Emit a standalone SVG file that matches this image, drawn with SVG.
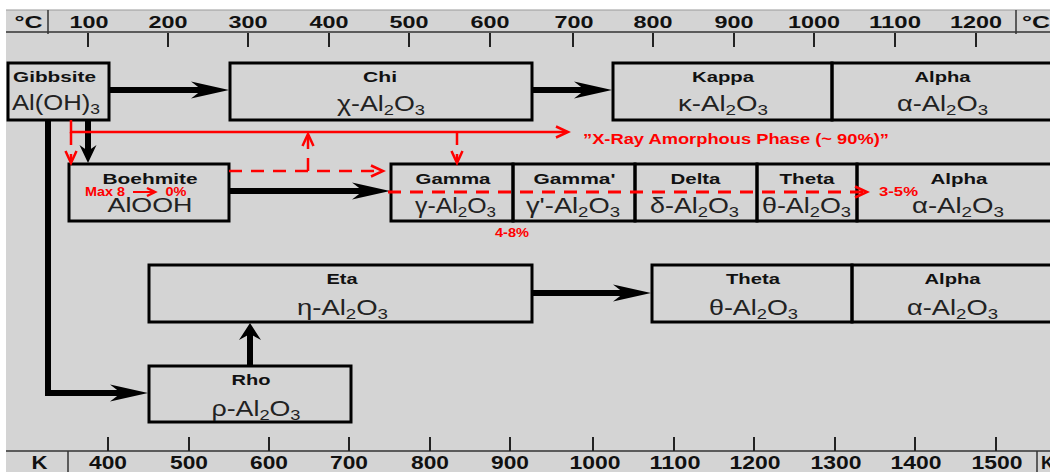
<svg xmlns="http://www.w3.org/2000/svg" xmlns:xlink="http://www.w3.org/1999/xlink" width="1050" height="472" viewBox="0 0 1050 472">
  <style>
    .sc { font-family: "Liberation Sans", Arial, sans-serif; font-weight: bold; font-size: 17px; fill: #111; text-anchor: middle; }
    .sb { font-family: "Liberation Sans", Arial, sans-serif; font-weight: bold; font-size: 18px; fill: #111; text-anchor: middle; }
    .nm { font-family: "Liberation Sans", Arial, sans-serif; font-weight: bold; font-size: 15px; fill: #111; text-anchor: middle; }
    .fm { font-family: "Liberation Sans", Arial, sans-serif; font-size: 22px; fill: #222; text-anchor: middle; }
    .rd { font-family: "Liberation Sans", Arial, sans-serif; font-weight: bold; font-size: 12px; fill: #ff0000; }
    .rx { font-family: "Liberation Sans", Arial, sans-serif; font-weight: bold; font-size: 15px; fill: #ff0000; }
    .box { fill: none; stroke: #000; stroke-width: 3; }
    .tick { stroke: #222; stroke-width: 2; }
    .rule { stroke: #333; stroke-width: 1.5; fill: none; }
    .shaft { stroke: #000; stroke-width: 6; fill: none; }
    .rl { stroke: #ff0000; stroke-width: 2.5; fill: none; }
    .dash { stroke-dasharray: 13 9; }
    .rv { stroke: #ff0000; stroke-width: 2.5; fill: none; stroke-linejoin: miter; }
  </style>
  <defs>
    <!-- long black stealth head, tip at origin pointing +x -->
    <path id="hd" d="M0,0 L-38,-8.5 L-27,0 L-38,8.5 Z" fill="#000"/>
    <!-- short heads for the vertical arrows -->
    <path id="hs" d="M0,0 L-18,-8.5 L-12,0 L-18,8.5 Z" fill="#000"/>
    <path id="hw" d="M0,0 L-17,-11 L-11,0 L-17,11 Z" fill="#000"/>
    <!-- red open heads -->
    <path id="rv" class="rv" d="M-12,-5.5 L0,0 L-12,5.5"/>
    <path id="rvs" class="rv" d="M-8,-4 L0,0 L-8,4"/>
  </defs>

  <!-- backdrop -->
  <rect x="0" y="0" width="1050" height="472" fill="#ffffff"/>
  <rect x="6" y="10" width="1050" height="470" fill="#d4d4d4"/>
  <line x1="6" y1="10" x2="1050" y2="10" stroke="#999" stroke-width="1"/>

  <!-- Celsius scale -->
  <g id="scale-celsius">
    <line class="rule" x1="6" y1="32" x2="1050" y2="32"/>
    <line class="rule" x1="48" y1="10" x2="48" y2="34"/>
    <line class="rule" x1="1016" y1="10" x2="1016" y2="34"/>
    <text class="sc" x="28.5" y="28" textLength="28" lengthAdjust="spacingAndGlyphs">°C</text>
    <text class="sc" x="1022" y="28" style="text-anchor:start" textLength="28" lengthAdjust="spacingAndGlyphs">°C</text>
    <g>
      <line class="tick" x1="88" y1="33" x2="88" y2="47"/>
      <line class="tick" x1="168" y1="33" x2="168" y2="47"/>
      <line class="tick" x1="248" y1="33" x2="248" y2="47"/>
      <line class="tick" x1="329" y1="33" x2="329" y2="47"/>
      <line class="tick" x1="409" y1="33" x2="409" y2="47"/>
      <line class="tick" x1="490" y1="33" x2="490" y2="47"/>
      <line class="tick" x1="573" y1="33" x2="573" y2="47"/>
      <line class="tick" x1="653" y1="33" x2="653" y2="47"/>
      <line class="tick" x1="734" y1="33" x2="734" y2="47"/>
      <line class="tick" x1="814" y1="33" x2="814" y2="47"/>
      <line class="tick" x1="895" y1="33" x2="895" y2="47"/>
      <line class="tick" x1="976" y1="33" x2="976" y2="47"/>
    </g>
    <text class="sc" x="89" y="28" textLength="39" lengthAdjust="spacingAndGlyphs">100</text>
    <text class="sc" x="168" y="28" textLength="39" lengthAdjust="spacingAndGlyphs">200</text>
    <text class="sc" x="248" y="28" textLength="39" lengthAdjust="spacingAndGlyphs">300</text>
    <text class="sc" x="329" y="28" textLength="39" lengthAdjust="spacingAndGlyphs">400</text>
    <text class="sc" x="409" y="28" textLength="39" lengthAdjust="spacingAndGlyphs">500</text>
    <text class="sc" x="490" y="28" textLength="39" lengthAdjust="spacingAndGlyphs">600</text>
    <text class="sc" x="574" y="28" textLength="39" lengthAdjust="spacingAndGlyphs">700</text>
    <text class="sc" x="653" y="28" textLength="39" lengthAdjust="spacingAndGlyphs">800</text>
    <text class="sc" x="734" y="28" textLength="39" lengthAdjust="spacingAndGlyphs">900</text>
    <text class="sc" x="814" y="28" textLength="52" lengthAdjust="spacingAndGlyphs">1000</text>
    <text class="sc" x="895" y="28" textLength="52" lengthAdjust="spacingAndGlyphs">1100</text>
    <text class="sc" x="976" y="28" textLength="52" lengthAdjust="spacingAndGlyphs">1200</text>
  </g>

  <!-- Kelvin scale -->
  <g id="scale-kelvin">
    <line class="rule" x1="6" y1="451" x2="1050" y2="451"/>
    <line class="rule" x1="68" y1="451" x2="68" y2="472"/>
    <line class="rule" x1="1037" y1="451" x2="1037" y2="472"/>
    <text class="sb" x="39.5" y="469" textLength="16" lengthAdjust="spacingAndGlyphs">K</text>
    <text class="sb" x="1041" y="469" style="text-anchor:start">K</text>
    <g>
      <line class="tick" x1="108" y1="437" x2="108" y2="451"/>
      <line class="tick" x1="189" y1="437" x2="189" y2="451"/>
      <line class="tick" x1="269" y1="437" x2="269" y2="451"/>
      <line class="tick" x1="349" y1="437" x2="349" y2="451"/>
      <line class="tick" x1="430" y1="437" x2="430" y2="451"/>
      <line class="tick" x1="510" y1="437" x2="510" y2="451"/>
      <line class="tick" x1="593" y1="437" x2="593" y2="451"/>
      <line class="tick" x1="674" y1="437" x2="674" y2="451"/>
      <line class="tick" x1="754" y1="437" x2="754" y2="451"/>
      <line class="tick" x1="835" y1="437" x2="835" y2="451"/>
      <line class="tick" x1="915" y1="437" x2="915" y2="451"/>
      <line class="tick" x1="996" y1="437" x2="996" y2="451"/>
    </g>
    <text class="sb" x="108" y="469" textLength="38" lengthAdjust="spacingAndGlyphs">400</text>
    <text class="sb" x="189" y="469" textLength="38" lengthAdjust="spacingAndGlyphs">500</text>
    <text class="sb" x="269" y="469" textLength="38" lengthAdjust="spacingAndGlyphs">600</text>
    <text class="sb" x="349" y="469" textLength="38" lengthAdjust="spacingAndGlyphs">700</text>
    <text class="sb" x="430" y="469" textLength="38" lengthAdjust="spacingAndGlyphs">800</text>
    <text class="sb" x="510" y="469" textLength="38" lengthAdjust="spacingAndGlyphs">900</text>
    <text class="sb" x="595" y="469" textLength="51" lengthAdjust="spacingAndGlyphs">1000</text>
    <text class="sb" x="675" y="469" textLength="51" lengthAdjust="spacingAndGlyphs">1100</text>
    <text class="sb" x="755" y="469" textLength="51" lengthAdjust="spacingAndGlyphs">1200</text>
    <text class="sb" x="836" y="469" textLength="51" lengthAdjust="spacingAndGlyphs">1300</text>
    <text class="sb" x="916" y="469" textLength="51" lengthAdjust="spacingAndGlyphs">1400</text>
    <text class="sb" x="997" y="469" textLength="51" lengthAdjust="spacingAndGlyphs">1500</text>
  </g>

  <!-- row 1 -->
  <g id="gibbsite">
    <rect class="box" x="8" y="63" width="101" height="57"/>
    <text class="nm" x="13" y="82" style="text-anchor:start" textLength="83" lengthAdjust="spacingAndGlyphs">Gibbsite</text>
    <text class="fm" x="12" y="110" style="text-anchor:start" textLength="88" lengthAdjust="spacingAndGlyphs">Al(OH)<tspan font-size="15" dy="4">3</tspan></text>
  </g>
  <g id="chi">
    <rect class="box" x="230" y="63" width="302" height="57"/>
    <text class="nm" x="380" y="82" textLength="34" lengthAdjust="spacingAndGlyphs">Chi</text>
    <text class="fm" x="381" y="111" textLength="88" lengthAdjust="spacingAndGlyphs">χ-Al<tspan font-size="15" dy="4">2</tspan><tspan dy="-4">O</tspan><tspan font-size="15" dy="4">3</tspan></text>
  </g>
  <g id="kappa">
    <rect class="box" x="613" y="63" width="219" height="57"/>
    <text class="nm" x="723" y="82" textLength="62" lengthAdjust="spacingAndGlyphs">Kappa</text>
    <text class="fm" x="723" y="111" textLength="90" lengthAdjust="spacingAndGlyphs">κ-Al<tspan font-size="15" dy="4">2</tspan><tspan dy="-4">O</tspan><tspan font-size="15" dy="4">3</tspan></text>
  </g>
  <g id="alpha-1">
    <rect class="box" x="832" y="63" width="230" height="57"/>
    <text class="nm" x="942.5" y="82" textLength="56" lengthAdjust="spacingAndGlyphs">Alpha</text>
    <text class="fm" x="942.5" y="111" textLength="91" lengthAdjust="spacingAndGlyphs">α-Al<tspan font-size="15" dy="4">2</tspan><tspan dy="-4">O</tspan><tspan font-size="15" dy="4">3</tspan></text>
  </g>

  <!-- row 2 -->
  <g id="boehmite">
    <rect class="box" x="69" y="164" width="160" height="57"/>
    <text class="nm" x="150" y="184" textLength="95" lengthAdjust="spacingAndGlyphs">Boehmite</text>
    <text class="fm" x="150" y="212" style="font-size:20px" textLength="85" lengthAdjust="spacingAndGlyphs">AlOOH</text>
    <text class="rd" x="85" y="196" textLength="40" lengthAdjust="spacingAndGlyphs">Max 8</text>
    <text class="rd" x="165.5" y="196" textLength="21" lengthAdjust="spacingAndGlyphs">0%</text>
  </g>
  <g id="gamma">
    <rect class="box" x="391" y="164" width="122" height="57"/>
    <text class="nm" x="453" y="184" textLength="75" lengthAdjust="spacingAndGlyphs">Gamma</text>
    <text class="fm" x="455.5" y="213" textLength="81" lengthAdjust="spacingAndGlyphs">γ-Al<tspan font-size="15" dy="4">2</tspan><tspan dy="-4">O</tspan><tspan font-size="15" dy="4">3</tspan></text>
  </g>
  <g id="gamma-prime">
    <rect class="box" x="513" y="164" width="122" height="57"/>
    <text class="nm" x="574.5" y="184" textLength="82" lengthAdjust="spacingAndGlyphs">Gamma'</text>
    <text class="fm" x="573" y="213" textLength="94" lengthAdjust="spacingAndGlyphs">γ'-Al<tspan font-size="15" dy="4">2</tspan><tspan dy="-4">O</tspan><tspan font-size="15" dy="4">3</tspan></text>
  </g>
  <g id="delta">
    <rect class="box" x="635" y="164" width="122" height="57"/>
    <text class="nm" x="695.5" y="184" textLength="50" lengthAdjust="spacingAndGlyphs">Delta</text>
    <text class="fm" x="694.5" y="213" textLength="89" lengthAdjust="spacingAndGlyphs">δ-Al<tspan font-size="15" dy="4">2</tspan><tspan dy="-4">O</tspan><tspan font-size="15" dy="4">3</tspan></text>
  </g>
  <g id="theta-2">
    <rect class="box" x="757" y="164" width="100" height="57"/>
    <text class="nm" x="807" y="184" textLength="55" lengthAdjust="spacingAndGlyphs">Theta</text>
    <text class="fm" x="806.5" y="213" textLength="89" lengthAdjust="spacingAndGlyphs">θ-Al<tspan font-size="15" dy="4">2</tspan><tspan dy="-4">O</tspan><tspan font-size="15" dy="4">3</tspan></text>
  </g>
  <g id="alpha-2">
    <rect class="box" x="857" y="164" width="205" height="57"/>
    <text class="nm" x="959" y="184" textLength="57" lengthAdjust="spacingAndGlyphs">Alpha</text>
    <text class="fm" x="958" y="213" textLength="92" lengthAdjust="spacingAndGlyphs">α-Al<tspan font-size="15" dy="4">2</tspan><tspan dy="-4">O</tspan><tspan font-size="15" dy="4">3</tspan></text>
  </g>

  <!-- row 3 -->
  <g id="eta">
    <rect class="box" x="149" y="265" width="383" height="57"/>
    <text class="nm" x="342" y="284" textLength="31" lengthAdjust="spacingAndGlyphs">Eta</text>
    <text class="fm" x="342.5" y="315" textLength="91" lengthAdjust="spacingAndGlyphs">η-Al<tspan font-size="15" dy="4">2</tspan><tspan dy="-4">O</tspan><tspan font-size="15" dy="4">3</tspan></text>
  </g>
  <g id="theta-3">
    <rect class="box" x="652" y="265" width="200" height="57"/>
    <text class="nm" x="753" y="284" textLength="54" lengthAdjust="spacingAndGlyphs">Theta</text>
    <text class="fm" x="753.5" y="315" textLength="89" lengthAdjust="spacingAndGlyphs">θ-Al<tspan font-size="15" dy="4">2</tspan><tspan dy="-4">O</tspan><tspan font-size="15" dy="4">3</tspan></text>
  </g>
  <g id="alpha-3">
    <rect class="box" x="852" y="265" width="210" height="57"/>
    <text class="nm" x="952.5" y="284" textLength="56" lengthAdjust="spacingAndGlyphs">Alpha</text>
    <text class="fm" x="952.5" y="315" textLength="91" lengthAdjust="spacingAndGlyphs">α-Al<tspan font-size="15" dy="4">2</tspan><tspan dy="-4">O</tspan><tspan font-size="15" dy="4">3</tspan></text>
  </g>

  <!-- row 4 -->
  <g id="rho">
    <rect class="box" x="149" y="366" width="202" height="56"/>
    <text class="nm" x="251" y="385" textLength="39" lengthAdjust="spacingAndGlyphs">Rho</text>
    <text class="fm" x="256" y="416" textLength="89" lengthAdjust="spacingAndGlyphs">ρ-Al<tspan font-size="15" dy="4">2</tspan><tspan dy="-4">O</tspan><tspan font-size="15" dy="4">3</tspan></text>
  </g>

  <!-- connectors -->
  <g id="connectors">
    <!-- transformation paths -->
    <line class="shaft" x1="109" y1="90" x2="203" y2="90"/>
    <use xlink:href="#hd" transform="translate(229,90)"/>
    <line class="shaft" x1="532" y1="90" x2="586" y2="90"/>
    <use xlink:href="#hd" transform="translate(612,90)"/>
    <line class="shaft" x1="88" y1="120" x2="88" y2="152"/>
    <use xlink:href="#hs" transform="translate(88,163) rotate(90)"/>
    <path class="shaft" d="M48,120 V393 H122"/>
    <use xlink:href="#hd" transform="translate(148,393)"/>
    <line class="shaft" x1="229" y1="191" x2="364" y2="191"/>
    <use xlink:href="#hd" transform="translate(390,191)"/>
    <line class="shaft" x1="532" y1="293" x2="625" y2="293"/>
    <use xlink:href="#hd" transform="translate(651,293)"/>
    <line class="shaft" x1="250" y1="366" x2="250" y2="333"/>
    <use xlink:href="#hw" transform="translate(250,323) rotate(-90)"/>

    <!-- amorphous route -->
    <path class="rl" d="M71,120 V132 H567"/>
    <use xlink:href="#rv" transform="translate(568,132)"/>
    <text class="rx" x="583" y="144" textLength="306" lengthAdjust="spacingAndGlyphs">”X-Ray Amorphous Phase (~ 90%)”</text>
    <line class="rl dash" x1="71" y1="132" x2="71" y2="162"/>
    <use xlink:href="#rv" transform="translate(71,163) rotate(90)"/>
    <line class="rl dash" x1="457" y1="132" x2="457" y2="162"/>
    <use xlink:href="#rv" transform="translate(457,163) rotate(90)"/>
    <line class="rl dash" x1="229" y1="171" x2="382" y2="171"/>
    <use xlink:href="#rv" transform="translate(383,171)"/>
    <line class="rl dash" x1="308" y1="171" x2="308" y2="135"/>
    <use xlink:href="#rv" transform="translate(308,134) rotate(-90)"/>
    <line class="rl dash" x1="388" y1="192" x2="866" y2="192" style="stroke-width:3"/>
    <use xlink:href="#rv" transform="translate(867,192)" style="stroke-width:3.5"/>
    <line class="rl" x1="133" y1="192" x2="154" y2="192" style="stroke-width:2"/>
    <use xlink:href="#rvs" transform="translate(155,192)"/>
    <text class="rd" x="495" y="237" textLength="34" lengthAdjust="spacingAndGlyphs">4-8%</text>
    <text class="rd" x="879" y="196" textLength="39" lengthAdjust="spacingAndGlyphs">3-5%</text>
  </g>
</svg>
